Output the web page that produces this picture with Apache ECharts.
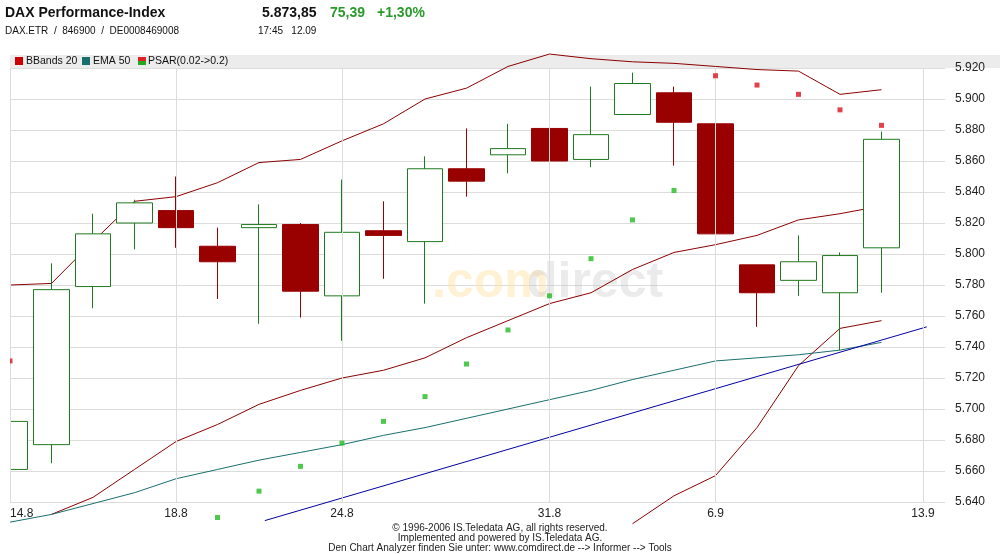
<!DOCTYPE html>
<html>
<head>
<meta charset="utf-8">
<style>
  html, body { margin: 0; padding: 0; background: #fff; }
  #chart { width: 1000px; height: 554px; }
</style>
<script src="https://cdn.jsdelivr.net/npm/echarts@6/dist/echarts.min.js"></script>
</head>
<body>
<div id="chart"></div>
<script>
// trading days, index = position on the x axis
const days = ['14.8', '15.8', '16.8', '17.8', '18.8', '21.8', '22.8', '23.8', '24.8', '25.8', '28.8',
  '29.8', '30.8', '31.8', '1.9', '4.9', '5.9', '6.9', '7.9', '8.9', '11.9', '12.9', '13.9']
const tickIdx = [0, 4, 8, 13, 17, 22]

// [open, close, low, high]
const ohlc = [
  [5661, 5692, 5661, 5702], [5677, 5777, 5665, 5794], [5779, 5813, 5765, 5826],
  [5820, 5833, 5803, 5835], [5828, 5817, 5804, 5850], [5805, 5795, 5771, 5817],
  [5817, 5819, 5755, 5832], [5819, 5776, 5759, 5820], [5773, 5814, 5744, 5848],
  [5815, 5812, 5784, 5834], [5808, 5855, 5768, 5863], [5855, 5847, 5837, 5881],
  [5864, 5868, 5852, 5884], [5881, 5860, 5841, 5887], [5861, 5877, 5856, 5908],
  [5890, 5910, 5890, 5917], [5904, 5885, 5857, 5908], [5884, 5813, 5800, 5884],
  [5793, 5775, 5753, 5793], [5783, 5795, 5773, 5812], [5775, 5799, 5738, 5801],
  [5804, 5874, 5775, 5879]
]
const bbUpper = [5780, 5781, 5808, 5834, 5837, 5846, 5859, 5861, 5873, 5884, 5900, 5907,
  5921, 5929, 5926, 5924, 5923, 5921, 5919, 5918, 5903, 5906]
const bbMiddle = [null, 5632, 5643, 5661, 5679, 5690, 5703, 5712, 5720, 5725, 5733, 5746,
  5757, 5768, 5775, 5790, 5801, 5806, 5812, 5822, 5826, 5831]
const bbLower = [null, null, null, null, null, null, null, null, null, null, null, null,
  null, null, null, 5626, 5644, 5657, 5688, 5728, 5752, 5757]
const ema50 = [5627, 5632, 5639, 5646, 5655, 5661, 5667, 5672, 5677, 5683, 5688, 5694,
  5700, 5706, 5712, 5719, 5725, 5731, 5733, 5735, 5738, 5743]
const psarRed = [[0, 5731], [17, 5915], [18, 5909], [19, 5903], [20, 5893], [21, 5883]]
const psarGreen = [[5, 5630], [6, 5647], [7, 5663], [8, 5678], [9, 5692], [10, 5708], [11, 5729],
  [12, 5751], [13, 5773], [14, 5797], [15, 5822], [16, 5841]]
const trendLine = [[6.14, 5628], [22.09, 5753]]

const green = '#1f7a1f'
const red = '#990000'
const fmt = (v) => String(v).replace(/(\d)(\d{3})$/, '$1.$2')
const withIdx = (arr) => arr.map((v, i) => [i, v])
const font = 'Arial, "Liberation Sans", sans-serif'

const chart = echarts.init(document.getElementById('chart'))

const lineSeries = (data, color) => ({
  type: 'line', data: withIdx(data), symbol: 'none', clip: false,
  lineStyle: { color, width: 1 }, z: 3, silent: true
})

const txt = (x, y, text, fill, f, align) => ({
  type: 'text', x, y, style: { text, fill, font: f, align: align || 'left' }
})

chart.setOption({
  animation: false,
  textStyle: { fontFamily: font },
  grid: { left: 10, right: 55, top: 68, bottom: 52, containLabel: false, outerBoundsMode: 'none' },
  xAxis: {
    type: 'value', min: 0, max: 22.53,
    axisLine: { show: false }, axisTick: { show: false }, splitLine: { show: false },
    axisLabel: {
      customValues: tickIdx, color: '#222', fontSize: 12, margin: 6, alignMinLabel: 'left',
      formatter: (v) => days[v] || ''
    }
  },
  yAxis: {
    type: 'value', position: 'right', min: 5640, max: 5920, interval: 20,
    axisLine: { show: false }, axisTick: { show: false },
    splitLine: { lineStyle: { color: '#dcdcdc' } },
    axisLabel: { color: '#222', fontSize: 12, margin: 10, formatter: fmt }
  },
  graphic: [
    { type: 'rect', x: 10, y: 55, shape: { width: 990, height: 13 }, style: { fill: '#ececec' }, z: 0 },
    { type: 'rect', x: 0, y: 68, shape: { width: 10, height: 435 }, style: { fill: '#fff' }, z: 100 },
    { type: 'text', x: 432, y: 258, z: 1, style: { text: '.com', fill: 'rgba(255,225,160,0.45)', font: 'bold 50px ' + font } },
    { type: 'text', x: 527, y: 258, z: 1, style: { text: 'direct', fill: 'rgba(190,190,190,0.3)', font: 'bold 50px ' + font } },
    txt(5, 6, 'DAX Performance-Index', '#111', 'bold 14px ' + font),
    txt(262, 6, '5.873,85', '#111', 'bold 14px ' + font),
    txt(330, 6, '75,39', '#2a9a2a', 'bold 14px ' + font),
    txt(377, 6, '+1,30%', '#2a9a2a', 'bold 14px ' + font),
    txt(5, 26, 'DAX.ETR  /  846900  /  DE0008469008', '#111', '10px ' + font),
    txt(258, 26, '17:45   12.09', '#111', '10px ' + font),
    { type: 'rect', x: 15, y: 57, shape: { width: 8, height: 8 }, style: { fill: '#cc0000' } },
    txt(26, 56, 'BBands 20', '#111', '10.5px ' + font),
    { type: 'rect', x: 82, y: 57, shape: { width: 8, height: 8 }, style: { fill: '#1a6e6e' } },
    txt(93, 56, 'EMA 50', '#111', '10.5px ' + font),
    { type: 'rect', x: 138, y: 57, shape: { width: 8, height: 4 }, style: { fill: '#dd2222' } },
    { type: 'rect', x: 138, y: 61, shape: { width: 8, height: 4 }, style: { fill: '#22aa22' } },
    txt(148, 56, 'PSAR(0.02->0.2)', '#111', '10.5px ' + font),
    txt(500, 523, '© 1996-2006 IS.Teledata AG, all rights reserved.', '#222', '10px ' + font, 'center'),
    txt(500, 533, 'Implemented and powered by IS.Teledata AG.', '#222', '10px ' + font, 'center'),
    txt(500, 543, 'Den Chart Analyzer finden Sie unter: www.comdirect.de --> Informer --> Tools', '#222', '10px ' + font, 'center')
  ],
  series: [
    {
      type: 'line', data: [], silent: true,
      markLine: {
        symbol: 'none', silent: true, label: { show: false },
        lineStyle: { color: '#dcdcdc', type: 'solid', width: 1 },
        data: tickIdx.map((i) => ({ xAxis: i }))
      }
    },
    lineSeries(bbUpper, '#8b0000'),
    lineSeries(bbMiddle, '#8b0000'),
    lineSeries(bbLower, '#8b0000'),
    lineSeries(ema50, '#1a6e6e'),
    {
      type: 'line', data: trendLine, symbol: 'none', clip: false,
      lineStyle: { color: '#0000a0', width: 1 }, z: 3
    },
    {
      type: 'candlestick', z: 4, barWidth: 36, clip: true,
      data: ohlc.map((d, i) => [i, ...d]),
      encode: { x: 0, y: [1, 2, 3, 4] },
      itemStyle: { color: '#fff', color0: red, borderColor: green, borderColor0: red, borderWidth: 1 }
    },
    {
      type: 'scatter', data: psarRed, symbol: 'rect', symbolSize: 5, z: 5, clip: false,
      itemStyle: { color: '#dd1122' }
    },
    {
      type: 'scatter', data: psarGreen, symbol: 'rect', symbolSize: 5, z: 5, clip: false,
      itemStyle: { color: '#22bb22' }
    }
  ]
})

window.addEventListener('resize', () => {
  chart.resize()
})
</script>
</body>
</html>
